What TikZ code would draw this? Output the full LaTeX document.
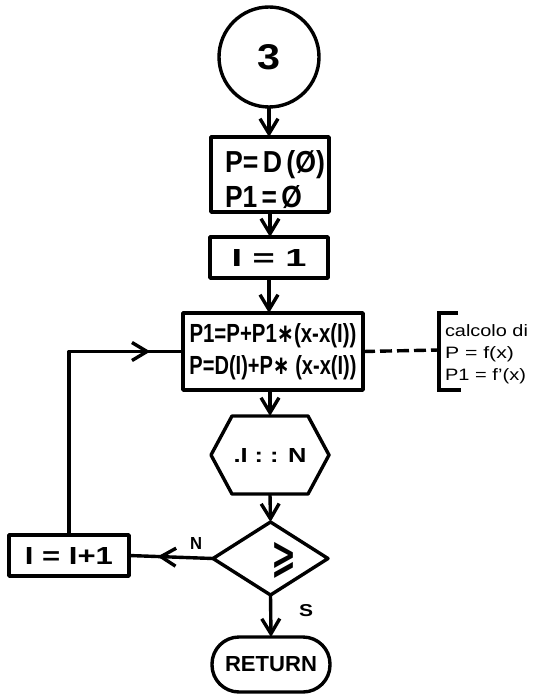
\documentclass[tikz,border=0pt]{standalone}
\usepackage{fontspec}
\setmainfont{Liberation Sans}
\newfontfamily\symfont{DejaVu Sans}
\usetikzlibrary{arrows.meta,decorations.markings}

% plain text at a given size, stretched to a given width (height kept)
\newcommand\fittext[3]{{\fontsize{#1pt}{#1pt}\selectfont\resizebox{#2pt}{\height}{#3}}}
% lettering in the chart: bold, scaled to width x height above the baseline
\newcommand\letter[3]{{\fontsize{20pt}{20pt}\selectfont\bfseries\resizebox{#1pt}{#2pt}{#3}}}

\tikzset{
  flow/.style={line width=3.4pt, line join=round},
  box/.style={draw, rectangle, flow},
  tipv/.style={-{Straight Barb[length=15pt,width=18pt]}},
  arrowat/.style={postaction={decorate, decoration={markings,
      mark=at position #1 with {\arrow{Straight Barb[length=15pt,width=18pt]}}}}},
  lbl/.style={inner sep=0pt, outer sep=0pt},
}

\begin{document}
\begin{tikzpicture}[x=1pt,y=-1pt, every node/.style={inner sep=0pt, outer sep=0pt}]
  \fill[white] (0,0) rectangle (532,695);
  \useasboundingbox (0,0) rectangle (532,695);

  % connector circle
  \node[draw, circle, flow, minimum size=100pt] (start) at (269,57) {\letter{23}{25}{3}};

  % initialisation
  \node[box, minimum width=118pt, minimum height=75pt, text width=90pt, inner xsep=14pt, align=left]
    (init) at (270,174.5) {\rule{0pt}{32pt}\letter{100}{22}{P= D (Ø)}\\[6pt]\letter{77}{22}{P1 = Ø}};
  \node[box, minimum width=118pt, minimum height=41pt] (seti) at (269,257.5) {\letter{75}{17}{I = 1}};

  % Horner step
  \node[box, minimum width=180pt, minimum height=77pt, align=center] (horner) at (273,351.5)
    {\letter{167}{19}{P1=P+P1{\symfont∗}(x-x(I))}\\[6pt]\letter{167}{19}{P=D(I)+P{\symfont∗} (x-x(I))}};

  % comparison hexagon
  \node[minimum width=118pt, minimum height=78pt] (cmp) at (270,455) {\letter{73}{14}{.I : : N}};
  \draw[flow] (cmp.west) -- ([xshift=21pt]cmp.north west) -- ([xshift=-21pt]cmp.north east)
    -- (cmp.east) -- ([xshift=-21pt]cmp.south east) -- ([xshift=21pt]cmp.south west) -- cycle;

  % decision diamond
  \node[minimum width=115pt, minimum height=73pt] (dec) at (270.5,558.5) {};
  \draw[flow] (dec.north) -- (dec.east) -- (dec.south) -- (dec.west) -- cycle;
  \node (ge) at (284,560) {\symfont\bfseries\resizebox*{25pt}{36pt}{⩾}};

  % increment
  \node[box, minimum width=120pt, minimum height=41pt] (inc) at (69,555.5) {\letter{88}{17}{I = I+1}};

  % end
  \node[draw, flow, rectangle, rounded corners=27pt, minimum width=118pt, minimum height=55pt]
    (ret) at (271,664.5) {\letter{92}{15}{RETURN}};

  % main flow
  \draw[flow, tipv] (start.south) -- (start.south |- init.north);
  \draw[flow, tipv] (init.south) -- (init.south |- seti.north);
  \draw[flow, tipv] (seti.south) -- (seti.south |- horner.north);
  \draw[flow, tipv] (cmp.north |- horner.south) -- (cmp.north);
  \draw[flow, tipv] (cmp.south) -- (dec.north);
  \draw[flow, tipv] (dec.south) -- (ret.north);

  % branches
  \draw[flow, arrowat=0.66] (dec.west) -- (inc.east);
  \draw[flow, arrowat=0.89] (inc.north) |- (horner.west);
  \node[lbl] (labN) at (196,543) {\letter{12}{12}{N}};
  \node[lbl] (labS) at (306,611) {\letter{14}{12}{S}};

  % comment bracket
  \coordinate (brk) at (439,350);
  \draw[flow, dash pattern=on 12pt off 5pt] (horner.east) -- (brk);
  \draw[flow, line join=miter] (458,313) -- (439,313) -- (439,390) -- (461,390);
  \node[lbl, anchor=base west] (c1) at (445,336) {\fittext{16.5}{83}{calcolo di}};
  \node[lbl, anchor=base west] (c2) at (445,358) {\fittext{16.5}{69}{P = f(x)}};
  \node[lbl, anchor=base west] (c3) at (445,380) {\fittext{16.5}{81}{P1 = f'(x)}};
\end{tikzpicture}
\end{document}
